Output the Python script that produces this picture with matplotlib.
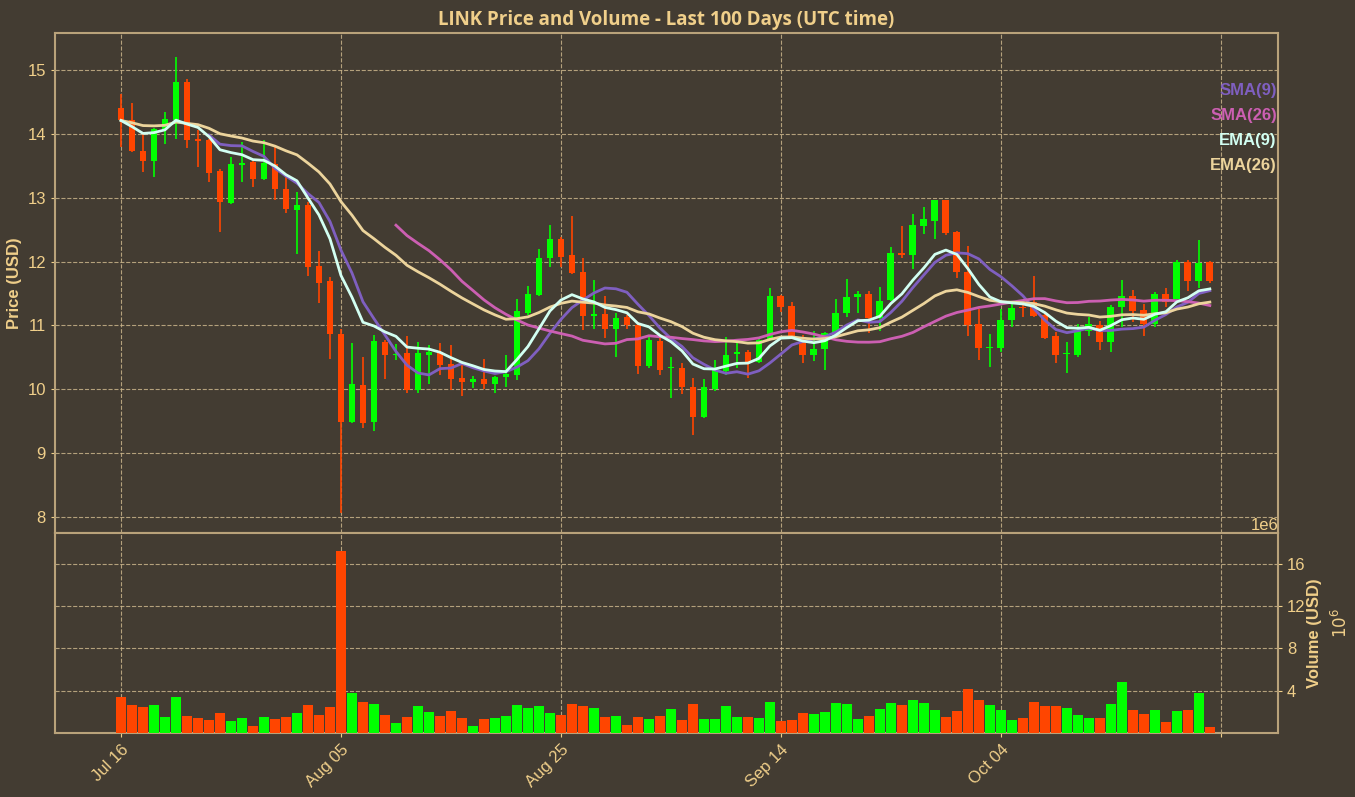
import matplotlib
matplotlib.use("Agg")
import matplotlib.pyplot as plt
import matplotlib.dates as mdates
from matplotlib.ticker import FuncFormatter
import numpy as np
import pandas as pd

start_date = "2024-07-16"
opens = [14.40, 14.21, 13.74, 13.58, 14.07, 14.21, 14.82, 13.92, 13.90, 13.42,
         12.92, 13.52, 13.56, 13.29, 13.53, 13.13, 12.81, 12.88, 11.93, 11.69,
         10.87, 9.49, 10.07, 9.49, 10.74, 10.53, 10.57, 9.99, 10.54, 10.58,
         10.40, 10.18, 10.12, 10.16, 10.08, 10.19, 10.22, 11.20, 11.47, 12.06,
         12.35, 12.10, 11.83, 11.15, 11.18, 10.94, 11.14, 11.00, 10.36, 10.76,
         10.33, 10.33, 10.03, 9.57, 10.01, 10.29, 10.55, 10.58, 10.43, 10.78,
         11.46, 11.30, 10.73, 10.54, 10.63, 10.89, 11.19, 11.44, 11.50, 11.12,
         11.40, 12.14, 12.10, 12.56, 12.64, 12.96, 12.47, 11.84, 11.02, 10.64,
         10.65, 11.08, 11.29, 11.37, 11.16, 10.84, 10.55, 10.54, 10.91, 11.00,
         10.74, 11.29, 11.46, 11.25, 11.02, 11.49, 11.42, 11.99, 11.69, 11.99]
highs = [14.62, 14.49, 14.00, 14.10, 14.34, 15.20, 14.86, 14.06, 13.92, 13.45,
         13.64, 13.87, 13.58, 13.90, 13.79, 13.32, 13.09, 12.93, 12.16, 11.76,
         10.95, 10.72, 10.50, 10.85, 10.78, 10.71, 10.84, 10.74, 10.69, 10.73,
         10.69, 10.40, 10.21, 10.48, 10.21, 10.54, 11.41, 11.62, 12.19, 12.57,
         12.38, 12.71, 12.06, 11.71, 11.46, 11.19, 11.16, 11.05, 10.82, 10.80,
         10.50, 10.41, 10.18, 10.16, 10.46, 10.82, 10.74, 10.61, 10.79, 11.58,
         11.47, 11.37, 10.85, 10.92, 10.90, 11.41, 11.73, 11.54, 11.54, 11.61,
         12.23, 12.56, 12.75, 12.86, 12.97, 12.97, 12.48, 12.24, 11.26, 10.86,
         11.26, 11.35, 11.37, 11.77, 11.21, 10.90, 10.74, 11.03, 11.14, 11.07,
         11.32, 11.71, 11.55, 11.33, 11.53, 11.59, 12.03, 12.02, 12.34, 12.01]
lows = [13.79, 13.72, 13.40, 13.32, 13.84, 13.92, 13.78, 13.48, 13.24, 12.46,
        12.91, 13.24, 13.17, 13.28, 12.96, 12.76, 12.12, 11.77, 11.35, 10.48,
        8.06, 9.47, 9.40, 9.34, 10.16, 10.46, 9.94, 9.94, 10.08, 10.22,
        9.99, 9.90, 10.02, 10.00, 9.94, 10.04, 10.14, 11.17, 11.46, 11.92,
        11.92, 11.80, 10.93, 10.94, 10.81, 10.50, 10.94, 10.24, 10.33, 10.22,
        9.86, 9.92, 9.29, 9.55, 9.97, 10.22, 10.33, 10.17, 10.42, 10.77,
        11.21, 10.80, 10.41, 10.44, 10.30, 10.87, 11.13, 11.19, 10.89, 10.92,
        11.39, 12.06, 11.88, 12.44, 12.36, 12.42, 11.75, 10.84, 10.46, 10.35,
        10.58, 10.98, 11.13, 11.13, 10.79, 10.42, 10.25, 10.51, 10.84, 10.61,
        10.59, 10.98, 11.06, 10.84, 10.98, 11.29, 11.41, 11.54, 11.59, 11.67]
closes = [14.21, 13.73, 13.58, 14.07, 14.24, 14.82, 13.91, 13.89, 13.38, 12.93,
          13.53, 13.54, 13.29, 13.54, 13.14, 12.82, 12.88, 11.92, 11.67, 10.86,
          9.49, 10.08, 9.48, 10.76, 10.53, 10.55, 9.99, 10.57, 10.58, 10.38,
          10.16, 10.12, 10.16, 10.08, 10.19, 10.24, 11.22, 11.49, 12.05, 12.35,
          12.08, 11.82, 11.15, 11.18, 10.94, 11.11, 11.00, 10.36, 10.77, 10.31,
          10.35, 10.03, 9.57, 10.03, 10.30, 10.54, 10.58, 10.43, 10.78, 11.46,
          11.29, 10.84, 10.54, 10.63, 10.89, 11.20, 11.44, 11.50, 11.12, 11.39,
          12.14, 12.10, 12.57, 12.67, 12.96, 12.45, 11.84, 11.00, 10.65, 10.66,
          11.08, 11.28, 11.27, 11.15, 10.81, 10.53, 10.56, 10.92, 11.03, 10.74,
          11.29, 11.46, 11.22, 11.02, 11.49, 11.37, 11.99, 11.69, 11.98, 11.69]
volumes_m = [3.40, 2.66, 2.47, 2.66, 1.53, 3.40, 1.63, 1.44, 1.25, 1.90,
             1.16, 1.44, 0.69, 1.53, 1.34, 1.53, 1.90, 2.66, 1.72, 2.47,
             17.2, 3.78, 2.94, 2.75, 1.72, 0.97, 1.53, 2.56, 2.00, 1.63,
             2.10, 1.44, 0.69, 1.34, 1.44, 1.63, 2.66, 2.38, 2.56, 1.90,
             1.72, 2.75, 2.56, 2.38, 1.53, 1.63, 0.78, 1.53, 1.34, 1.63,
             2.28, 1.25, 2.75, 1.34, 1.34, 2.56, 1.53, 1.53, 1.44, 2.94,
             1.16, 1.25, 1.90, 1.81, 2.00, 2.84, 2.75, 1.34, 1.63, 2.28,
             2.84, 2.66, 3.13, 2.84, 2.19, 1.53, 2.10, 4.16, 3.13, 2.66,
             2.19, 1.25, 1.44, 2.94, 2.56, 2.56, 2.38, 1.72, 1.44, 1.44,
             2.75, 4.81, 2.19, 1.81, 2.19, 1.06, 2.10, 2.19, 3.78, 0.59]
vol_ticks_m = [4, 8, 12, 16]

BG = "#433c32"
TXT = "#f0cf8a"
GRID = "#c9b48a"
SPINE = "#b9a27a"
UP = "#00ff00"
DOWN = "#ff4500"

dates = pd.date_range(start_date, periods=len(closes), freq="D")
df = pd.DataFrame({"open": opens, "high": highs, "low": lows,
                   "close": closes, "volume": np.array(volumes_m) * 1e6},
                  index=dates)
sma9 = df["close"].rolling(9).mean()
sma26 = df["close"].rolling(26).mean()
ema9 = df["close"].ewm(span=9, adjust=False).mean()
ema26 = df["close"].ewm(span=26, adjust=False).mean()

plt.rcParams["font.family"] = ["Liberation Sans", "DejaVu Sans"]
fig = plt.figure(figsize=(13.55, 7.97), dpi=100, facecolor=BG)
axp = fig.add_axes([0.0406, 0.3312, 0.9026, 0.6274], facecolor=BG)
axv = fig.add_axes([0.0406, 0.0803, 0.9026, 0.2509], facecolor=BG, sharex=axp)

x = mdates.date2num(df.index.to_pydatetime())
up = df["close"] >= df["open"]
colors = np.where(up, UP, DOWN)

body_bottom = np.minimum(df["open"], df["close"])
body_h = np.maximum(np.abs(df["close"] - df["open"]), 0.012)
axp.vlines(x, df["low"], df["high"], colors=colors, linewidth=1.2, zorder=2)
axp.bar(x, body_h, bottom=body_bottom, width=0.62, color=colors, linewidth=0, zorder=3)

axp.plot(x, sma9, color="#7f5fc0", lw=2.0, zorder=4)
axp.plot(x, sma26, color="#cc5fb2", lw=2.0, zorder=4)
axp.plot(x, ema9, color="#d2fff2", lw=2.0, zorder=5)
axp.plot(x, ema26, color="#ecd49c", lw=2.0, zorder=4)

axv.bar(x, df["volume"], width=0.95, color=colors, linewidth=0, zorder=3)

xmin = x[0] - 6.0
xmax = x[-1] + 6.2
axp.set_xlim(xmin, xmax)
axp.set_ylim(7.75, 15.58)
axv.set_ylim(0, df["volume"].max() * 1.1)

tick_pos = [x[0] + 20 * k for k in range(6)]
tick_lab = [mdates.num2date(t).strftime("%b %d") for t in tick_pos[:5]] + [""]
axv.set_xticks(tick_pos)
axv.set_xticklabels(tick_lab, rotation=45, ha="right", rotation_mode="anchor")
plt.setp(axp.get_xticklabels(), visible=False)

axp.set_yticks(range(8, 16))
axv.set_yticks([t * 1e6 for t in vol_ticks_m])
axv.yaxis.set_major_formatter(FuncFormatter(lambda v, p: f"{v / 1e6:g}"))
axv.yaxis.tick_right()
axv.yaxis.set_label_position("right")

for ax in (axp, axv):
    ax.grid(True, color=GRID, linestyle="--", linewidth=0.8, alpha=0.85, zorder=0)
    ax.set_axisbelow(True)
    for s in ax.spines.values():
        s.set_color(SPINE)
        s.set_linewidth(1.5)
    ax.tick_params(colors=TXT, labelsize=12, length=3)

axp.set_ylabel("Price (USD)", color=TXT, fontsize=12, fontweight="bold")
axv.set_ylabel("Volume (USD)", color=TXT, fontsize=12, fontweight="bold", labelpad=1)
axv.text(1.0, 1.0, "1e6", transform=axv.transAxes, ha="right", va="bottom",
         color=TXT, fontsize=12)
axv.text(1.051, 0.55, r"$10^{6}$", transform=axv.transAxes, ha="center",
         va="center", rotation=90, color=TXT, fontsize=12)
axp.set_title("LINK Price and Volume - Last 100 Days (UTC time)", color=TXT,
              fontsize=13.5, fontweight="bold", family=["Open Sans", "DejaVu Sans"], pad=6)

labels = [("SMA(9)", "#7f5fc0"), ("SMA(26)", "#cc5fb2"),
          ("EMA(9)", "#d2fff2"), ("EMA(26)", "#ecd49c")]
for k, (lab, col) in enumerate(labels):
    axp.text(0.999, 0.886 - k * 0.05, lab, transform=axp.transAxes, ha="right",
             va="center", color=col, fontsize=12, fontweight="bold")

fig.savefig("out.png", dpi=100, facecolor=BG)
